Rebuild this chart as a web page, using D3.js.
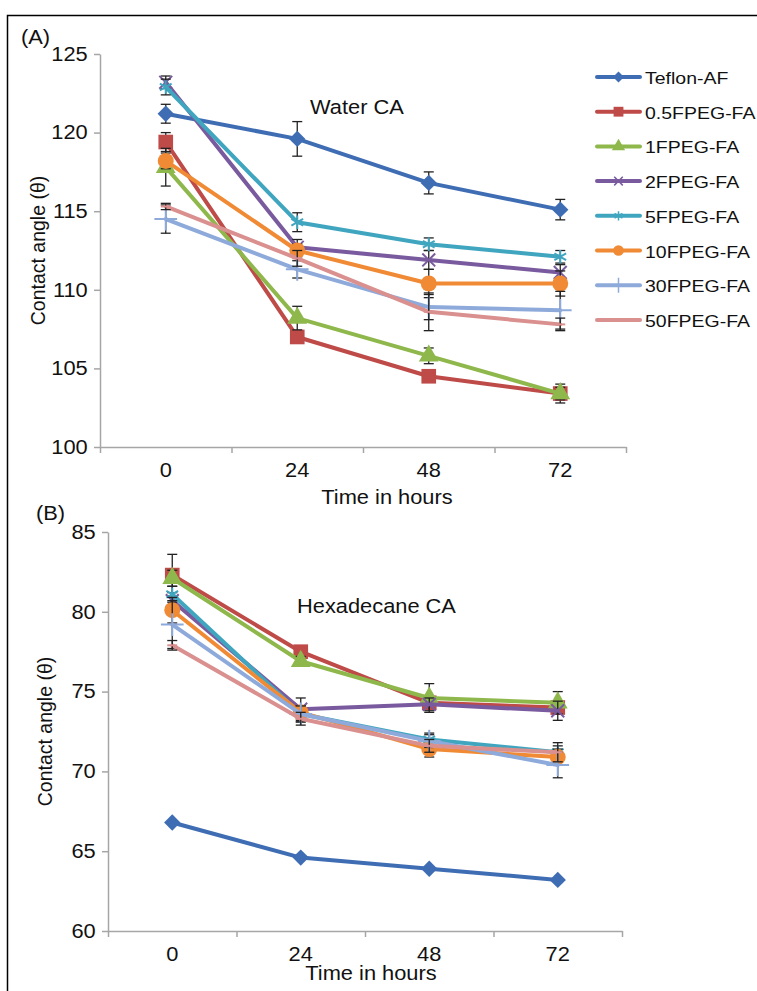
<!DOCTYPE html>
<html>
<head>
<meta charset="utf-8">
<script src="https://cdn.jsdelivr.net/npm/d3@7"></script>
<style>
  body { margin: 0; background: #fff; }
  svg { font-family: "Liberation Sans", Arial, sans-serif; }
</style>
</head>
<body>
<div class="chart-container"></div>
<script>
// Data
const hours = ["0", "24", "48", "72"];
const seriesNames = ["Teflon-AF", "0.5FPEG-FA", "1FPEG-FA", "2FPEG-FA", "5FPEG-FA", "10FPEG-FA", "30FPEG-FA", "50FPEG-FA"];
const seriesColors = ["#3f6db4", "#be4b48", "#8fb84c", "#7a5a9e", "#40a6c0", "#f08a35", "#8eaadb", "#d9908f"];
const markerKinds = ["diamond", "square", "triangle", "times", "asterisk", "circle", "plus", "dash"];

const waterTicks = [100, 105, 110, 115, 120, 125];
const waterCA = [
    [121.2, 119.6, 116.8, 115.1],
    [119.4, 107.0, 104.5, 103.4],
    [117.8, 108.2, 105.8, 103.4],
    [123.2, 112.7, 111.9, 111.1],
    [122.9, 114.3, 112.9, 112.1],
    [118.2, 112.5, 110.4, 110.4],
    [114.5, 111.3, 108.9, 108.7],
    [115.3, 112.0, 108.6, 107.8]
];
const waterErr = [
    [0.6, 1.1, 0.7, 0.65],
    [0.6, 0.3, 0.3, 0.6],
    [1.2, 0.75, 0.5, 0.4],
    [0.4, 0.5, 0.6, 0.5],
    [0.5, 0.6, 0.4, 0.4],
    [0.5, 0.4, 0.9, 0.8],
    [0.9, 0.55, 0.8, 1.2],
    [0.2, 0.5, 1.2, 0.4]
];

const hexTicks = [60, 65, 70, 75, 80, 85];
const hexCA = [
    [66.8, 64.6, 63.9, 63.2],
    [82.3, 77.5, 74.3, 74.0],
    [82.1, 76.9, 74.6, 74.3],
    [80.7, 73.9, 74.2, 73.8],
    [81.1, 73.6, 72.0, 71.2],
    [80.1, 73.7, 71.4, 70.9],
    [79.2, 73.6, 71.9, 70.4],
    [77.9, 73.3, 71.6, 71.2]
];
const hexErr = [
    [0.1, 0.1, 0.1, 0.1],
    [1.3, 0.3, 0.4, 0.4],
    [0.5, 0.3, 0.9, 0.7],
    [0.5, 0.7, 0.4, 0.6],
    [0.5, 0.5, 0.4, 0.4],
    [0.8, 0.4, 0.5, 0.5],
    [1.5, 0.5, 0.4, 0.8],
    [0.3, 0.4, 0.4, 0.6]
];

const width = 757;
const height = 991;
const stretch = 1.12;   // text in the figure is a bit wider than Arial
const axisColor = "#a6a6a6";

const svg = d3.select('.chart-container').append("svg")
    .attr("width", width)
    .attr("height", height);

// outer frame
svg.append("rect")
    .attr("x", 7.5).attr("y", 15.5)
    .attr("width", 800).attr("height", 1000)
    .attr("fill", "none")
    .attr("stroke", "#000")
    .attr("stroke-width", 1.5);

function addText(g, x, y, str, size, anchor, rotate) {
    const t = g.append("text")
        .attr("transform", rotate
            ? `translate(${x},${y}) rotate(-90)`
            : `translate(${x},${y}) scale(${stretch},1)`)
        .attr("text-anchor", anchor || "start")
        .style("font-size", size + "px")
        .attr("fill", "#111")
        .text(str);
    return t;
}

// marker shapes
const dashType = {
    draw(ctx, size) {
        const r = Math.sqrt(size) / 2;
        ctx.moveTo(-r, 0);
        ctx.lineTo(r, 0);
    }
};
function markerPath(kind, scale) {
    const types = {
        diamond: [d3.symbolDiamond2, 170],
        square: [d3.symbolSquare, 215],
        triangle: [d3.symbolTriangle, 170],
        times: [d3.symbolTimes, 110],
        asterisk: [d3.symbolAsterisk, 130],
        circle: [d3.symbolCircle, 200],
        plus: [d3.symbolPlus, 170],
        dash: [dashType, 100]
    };
    const [type, size] = types[kind];
    return d3.symbol().type(type).size(size * scale)();
}
const filledKinds = ["diamond", "square", "triangle", "circle"];

function drawPanel(cfg) {
    const g = svg.append("g");

    const x = d3.scaleBand()
        .domain(hours)
        .range([cfg.left, cfg.right]);
    const xEdges = d3.scaleLinear()
        .domain([0, hours.length])
        .range([cfg.left, cfg.right]);
    const y = d3.scaleLinear()
        .domain(d3.extent(cfg.ticks))
        .range([cfg.bottom, cfg.top]);

    // y axis
    const yAxis = g.append("g")
        .attr("transform", `translate(${cfg.left},0)`)
        .call(d3.axisLeft(y).tickValues(cfg.ticks).tickSize(6).tickPadding(5).tickSizeOuter(0));
    yAxis.select(".domain").attr("stroke", axisColor).attr("stroke-width", 1.5);
    yAxis.selectAll(".tick line").attr("stroke", axisColor).attr("stroke-width", 1.5);
    yAxis.selectAll(".tick text")
        .attr("transform", `scale(${stretch},1)`)
        .style("font-size", "19.5px")
        .attr("fill", "#111");

    // x axis: tick marks between categories, labels centred
    const xAxis = g.append("g")
        .attr("transform", `translate(0,${cfg.bottom})`)
        .call(d3.axisBottom(xEdges).tickValues(d3.range(hours.length + 1)).tickSize(6).tickFormat("").tickSizeOuter(0));
    xAxis.select(".domain").attr("stroke", axisColor).attr("stroke-width", 1.5);
    xAxis.selectAll(".tick line").attr("stroke", axisColor).attr("stroke-width", 1.5);

    const xLabels = g.append("g")
        .attr("transform", `translate(0,${cfg.bottom})`)
        .call(d3.axisBottom(x).tickSize(0).tickPadding(16));
    xLabels.select(".domain").remove();
    xLabels.selectAll(".tick text")
        .attr("transform", `scale(${stretch},1)`)
        .style("font-size", "19.5px")
        .attr("fill", "#111");

    // titles
    addText(g, cfg.panelX, cfg.panelY, cfg.panel, 19.5, "start");
    addText(g, cfg.xTitleX, cfg.xTitleY, "Time in hours", 19.5, "middle");
    addText(g, cfg.yTitleX, (cfg.top + cfg.bottom) / 2, "Contact angle (θ)", 19.5, "middle", true);
    addText(g, cfg.noteX, cfg.noteY, cfg.note, 19.5, "start");

    const line = d3.line()
        .x((d, i) => x(hours[i]) + x.bandwidth() / 2)
        .y(d => y(d));

    cfg.values.forEach((vals, s) => {
        const color = seriesColors[s];
        const sg = g.append("g");

        sg.append("path")
            .datum(vals)
            .attr("d", line)
            .attr("fill", "none")
            .attr("stroke", color)
            .attr("stroke-width", 4)
            .attr("stroke-linejoin", "round")
            .attr("stroke-linecap", "round");

        // error bars
        const eb = sg.selectAll(".err")
            .data(vals.map((v, i) => ({ v: v, e: cfg.errors[s][i], h: hours[i] })))
            .enter()
            .append("g")
            .attr("transform", d => `translate(${x(d.h) + x.bandwidth() / 2},0)`);
        eb.append("line")
            .attr("y1", d => y(d.v - d.e)).attr("y2", d => y(d.v + d.e))
            .attr("stroke", "#222").attr("stroke-width", 1.3);
        eb.append("line")
            .attr("x1", -5).attr("x2", 5)
            .attr("y1", d => y(d.v + d.e)).attr("y2", d => y(d.v + d.e))
            .attr("stroke", "#222").attr("stroke-width", 1.3);
        eb.append("line")
            .attr("x1", -5).attr("x2", 5)
            .attr("y1", d => y(d.v - d.e)).attr("y2", d => y(d.v - d.e))
            .attr("stroke", "#222").attr("stroke-width", 1.3);

        const kind = markerKinds[s];
        const filled = filledKinds.includes(kind);
        sg.selectAll(".mark")
            .data(vals)
            .enter()
            .append("path")
            .attr("transform", (d, i) => `translate(${x(hours[i]) + x.bandwidth() / 2},${y(d)})`)
            .attr("d", markerPath(kind, 1))
            .attr("fill", filled ? color : "none")
            .attr("stroke", color)
            .attr("stroke-width", filled ? 0 : 2);
    });
}

drawPanel({
    panel: "(A)", panelX: 21, panelY: 44,
    note: "Water CA", noteX: 310, noteY: 114,
    left: 100, right: 626, top: 54, bottom: 447,
    ticks: waterTicks, values: waterCA, errors: waterErr,
    xTitleX: 387, xTitleY: 504, yTitleX: 45
});

drawPanel({
    panel: "(B)", panelX: 36, panelY: 520,
    note: "Hexadecane CA", noteX: 297, noteY: 613,
    left: 108, right: 622, top: 532, bottom: 931,
    ticks: hexTicks, values: hexCA, errors: hexErr,
    xTitleX: 371, xTitleY: 980, yTitleX: 52
});

// Legend
const legend = svg.append("g").attr("id", "legend");
seriesNames.forEach((name, s) => {
    const ly = 77 + s * 34.7;
    const color = seriesColors[s];
    legend.append("line")
        .attr("x1", 597).attr("x2", 640)
        .attr("y1", ly).attr("y2", ly)
        .attr("stroke", color)
        .attr("stroke-width", 4)
        .attr("stroke-linecap", "round");
    const kind = markerKinds[s];
    const filled = filledKinds.includes(kind);
    if (kind !== "dash") {
        legend.append("path")
            .attr("transform", `translate(618.5,${ly})`)
            .attr("d", markerPath(kind, 0.45))
            .attr("fill", filled ? color : "none")
            .attr("stroke", color)
            .attr("stroke-width", filled ? 0 : 1.5);
    }
    addText(legend, 645, ly + 7, name, 17.4, "start");
});
</script>
</body>
</html>
